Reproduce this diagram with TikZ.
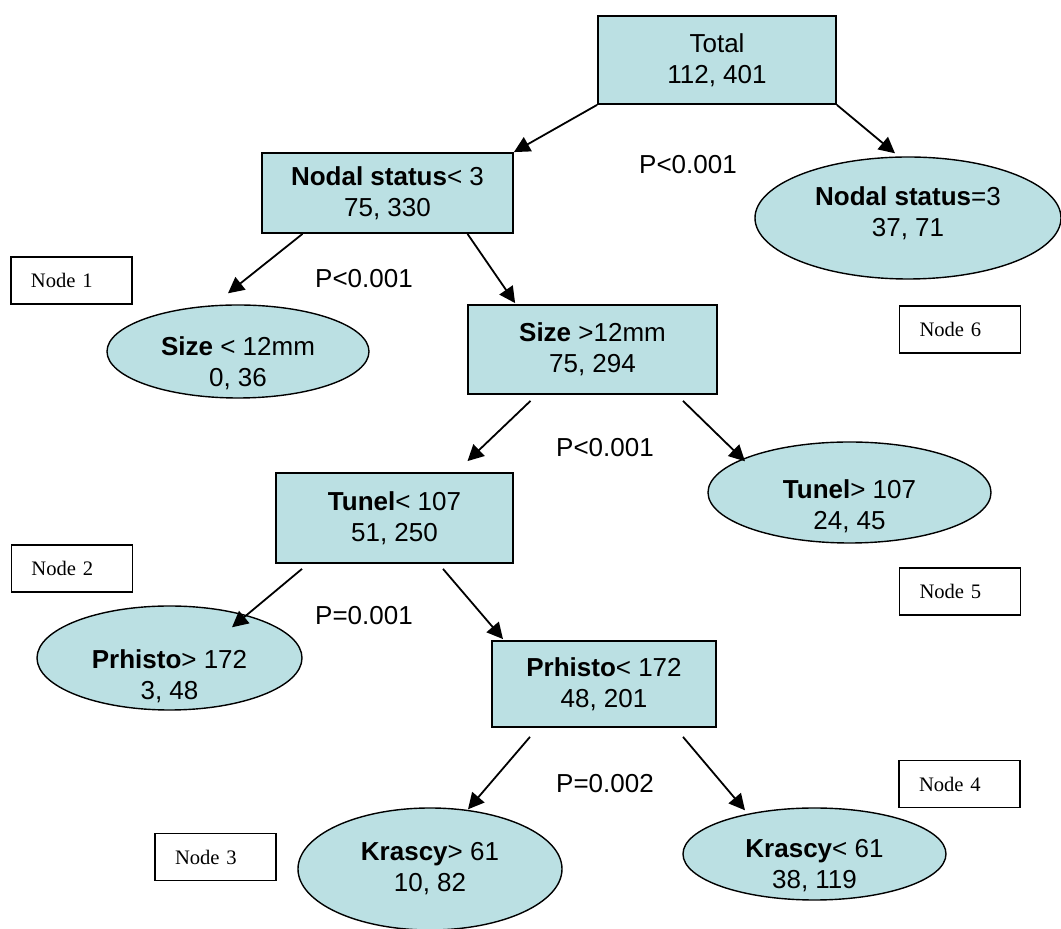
\documentclass[tikz,border=0pt]{standalone}
\usepackage{fontspec}
\setmainfont{Liberation Sans}
\newfontfamily\tagfont{Liberation Serif}
\usetikzlibrary{shapes.geometric,arrows.meta,calc}
\definecolor{boxfill}{HTML}{BBE0E3}
\tikzset{
  split/.style={draw, line width=0.9pt, fill=boxfill, align=center, inner sep=0pt},
  leaf/.style={ellipse, draw, line width=0.7pt, fill=boxfill, inner sep=0pt},
  leaftext/.style={align=center, inner sep=0pt},
  tag/.style={draw, line width=0.8pt, minimum width=60.5pt, minimum height=23.5pt,
    inner xsep=10pt, text width=40.5pt, align=left, font=\tagfont\fontsize{10.3}{12}\selectfont},
  link/.style={line width=0.9pt, -{Triangle[length=8pt,width=8pt]}}
}
\begin{document}
\begin{tikzpicture}[x=0.5pt, y=-0.5pt, font=\fontsize{13}{15.5}\selectfont]
\useasboundingbox (0,0) rectangle (1061,929);
\node[split, minimum width=119pt, minimum height=44pt] (total) at (717,60) {Total\\112, 401};
\node[split, minimum width=125.5pt, minimum height=40pt] (nsL) at (387.5,193) {\textbf{Nodal status}< 3\\75, 330};
\node[leaf, minimum width=153pt, minimum height=61pt,
  label={[leaftext, yshift=2.5pt]center:{\textbf{Nodal status}=3\\37, 71}}] (nsR) at (908,218) {};
\node[split, minimum width=124.5pt, minimum height=44.5pt] (sizeR) at (592.5,349.5) {\textbf{Size} >12mm\\75, 294};
\node[leaf, minimum width=131pt, minimum height=46.5pt,
  label={[leaftext, yshift=-6pt]center:{\textbf{Size} < 12mm\\0, 36}}] (sizeL) at (238,351.5) {};
\node[split, minimum width=118.5pt, minimum height=45pt] (tunL) at (394.5,518) {\textbf{Tunel}< 107\\51, 250};
\node[leaf, minimum width=141.5pt, minimum height=50.5pt,
  label={[leaftext, yshift=-7pt]center:{\textbf{Tunel}> 107\\24, 45}}] (tunR) at (849.5,492.5) {};
\node[leaf, minimum width=132.5pt, minimum height=52pt,
  label={[leaftext, yshift=-9pt]center:{\textbf{Prhisto}> 172\\3, 48}}] (prL) at (169.5,658) {};
\node[split, minimum width=112pt, minimum height=43pt] (prR) at (604,684) {\textbf{Prhisto}< 172\\48, 201};
\node[leaf, minimum width=132pt, minimum height=61pt,
  label={[leaftext, yshift=0pt]center:{\textbf{Krascy}> 61\\10, 82}}] (krL) at (430,869) {};
\node[leaf, minimum width=131.5pt, minimum height=46pt,
  label={[leaftext, yshift=-6pt]center:{\textbf{Krascy}< 61\\38, 119}}] (krR) at (814.5,854) {};

\node[tag] (tag1) at (71.5,280.5) {Node 1};
\node[tag] (tag2) at (72,568.5) {Node 2};
\node[tag] (tag3) at (215.5,857) {Node 3};
\node[tag] (tag4) at (959.5,784) {Node 4};
\node[tag] (tag5) at (960,591.5) {Node 5};
\node[tag] (tag6) at (960,329.5) {Node 6};

\node (p1) at (688,165) {P<0.001};
\node (p2) at (364,279) {P<0.001};
\node (p3) at (605,448) {P<0.001};
\node (p4) at (364,616) {P=0.001};
\node (p5) at (605,784) {P=0.002};

\draw[link] (total.south west) -- (nsL.north east);
\draw[link] (total.south east) -- ($(nsR.north)+(-13,-3)$);
\draw[link] ($(nsL.south)+(-85,0)$) -- ($(sizeL.north)+(-10,-11)$);
\draw[link] ($(nsL.south)+(80,0)$) -- ($(sizeR.north west)+(48,-1)$);
\draw[link] ($(sizeR.south)+(-62,6)$) -- ($(tunL.north)+(73,-11)$);
\draw[link] ($(sizeR.south)+(90.5,6)$) -- ($(tunR.north)+(-104.5,20)$);
\draw[link] ($(tunL.south)+(-92.5,5)$) -- ($(prL.north)+(62.5,22)$);
\draw[link] ($(tunL.south)+(48.5,5)$) -- ($(prR.north)+(-101,-1)$);
\draw[link] ($(prR.south)+(-74,9)$) -- ($(krL.north)+(38,2)$);
\draw[link] ($(prR.south)+(79,9)$) -- ($(krR.north)+(-69.5,3)$);
\end{tikzpicture}
\end{document}
